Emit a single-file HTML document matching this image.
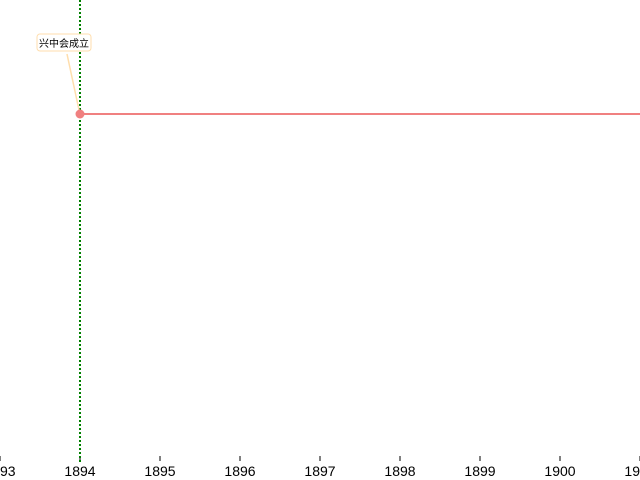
<!DOCTYPE html>
<html><head><meta charset="utf-8"><style>
html,body{margin:0;padding:0;background:#fff;}
svg{display:block;font-family:"Liberation Sans","Noto Sans CJK SC",sans-serif;}
</style></head><body>
<svg id="chart" width="640" height="480"></svg>
<script>
const years = [1893,1894,1895,1896,1897,1898,1899,1900,1901];
const eventYears = [1894];
const eventLabels = ["兴中会成立"];
const eventLevels = [1];
const markerYear = 1894;
const ns = "http://www.w3.org/2000/svg";
const svg = document.getElementById("chart");
function xs(y){return (y-1893)*80;}
function ys(v){return 114 + (1-v)*0;}
function mk(t,a){const e=document.createElementNS(ns,t);for(const k in a)e.setAttribute(k,a[k]);svg.appendChild(e);return e;}
// axis ticks
years.forEach(y=>{
  const t=mk("line",{x1:xs(y),x2:xs(y),y1:456,y2:461,stroke:"#000","stroke-width":1});
  
  
  const l=mk("text",{x:xs(y),y:476,"text-anchor":"middle","font-size":"14",fill:"#000"});
  l.textContent=y;
  
  
});
// marker line
const ml=mk("line",{x1:xs(markerYear),x2:xs(markerYear),y1:0,y2:462,stroke:"#008000","stroke-width":2,"stroke-dasharray":"2,2"});


eventYears.forEach((y,i)=>{
  const x=xs(y), yy=ys(eventLevels[i]);
  const ln=mk("line",{x1:x,x2:640,y1:yy,y2:yy,stroke:"#f08080","stroke-width":2});
  
  
  const c=mk("line",{x1:x-13,y1:54,x2:x-1,y2:yy-4,stroke:"#ffdead","stroke-width":1.5});
  
  
  const r=mk("rect",{x:x-43,y:34,width:54,height:17,rx:3,fill:"#fff",stroke:"#ffdead","stroke-width":1});
  
  
  const t=mk("text",{x:x-16,y:47,"text-anchor":"middle","font-size":"10",fill:"#000"});
  t.textContent=eventLabels[i];
  
  
  const d=mk("circle",{cx:x,cy:yy,r:4.5,fill:"#f08080"});
  
  
});
</script>
</body></html>
